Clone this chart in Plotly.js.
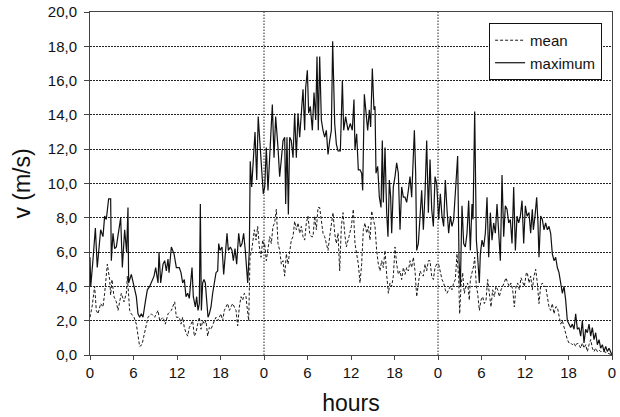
<!DOCTYPE html>
<html>
<head>
<meta charset="utf-8">
<script src="https://cdn.plot.ly/plotly-3.0.1.min.js"></script>
<style>html,body{margin:0;padding:0;background:#fff;}#chart{width:620px;height:417px;}</style>
</head>
<body>
<div id="chart"></div>
<script>
// ---- data (hours from start of 3-day record, wind speed m/s) ----
const maxHours = [0.0,0.1,0.4,0.74,1.0,1.47,1.79,2.02,2.25,2.57,2.85,2.94,3.17,3.4,3.63,3.86,4.23,4.46,4.78,5.05,5.24,5.33,5.7,6.07,6.39,6.62,6.85,7.08,7.31,7.63,7.91,8.23,8.46,8.83,9.06,9.38,9.52,9.75,10.07,10.3,10.53,10.76,10.9,11.22,11.59,11.91,12.32,12.55,12.78,13.01,13.24,13.47,13.7,14.07,14.25,14.53,14.71,14.9,15.08,15.22,15.36,15.54,15.72,15.91,16.09,16.28,16.46,16.69,16.92,17.15,17.38,17.61,17.75,17.93,18.21,18.44,18.67,18.9,19.08,19.36,19.59,19.77,20.0,20.23,20.51,20.74,20.97,21.19,21.42,21.75,21.98,22.1,22.3,22.5,22.76,23.0,23.2,23.45,23.7,23.9,24.1,24.32,24.55,24.87,25.15,25.38,25.61,25.93,26.16,26.39,26.62,26.85,26.99,27.17,27.36,27.54,27.77,28.0,28.23,28.46,28.69,28.92,29.15,29.38,29.61,29.75,29.98,30.16,30.39,30.67,30.9,31.13,31.31,31.49,31.68,31.91,32.14,32.37,32.6,32.83,33.06,33.29,33.47,33.75,33.98,34.21,34.53,34.81,34.99,35.26,35.59,35.91,36.18,36.41,36.55,36.78,37.01,37.24,37.47,37.61,37.84,38.07,38.3,38.53,38.71,38.94,39.17,39.31,39.45,39.68,39.91,40.14,40.32,40.46,40.69,40.92,41.1,41.29,41.47,41.61,41.84,42.07,42.3,42.53,42.76,42.99,43.22,43.45,43.68,43.91,44.14,44.37,44.6,44.74,44.92,45.06,45.29,45.52,45.75,45.98,46.21,46.44,46.67,46.9,47.13,47.36,47.59,47.82,48.09,48.32,48.55,48.78,49.01,49.24,49.47,49.7,49.93,50.16,50.39,50.71,50.9,51.08,51.31,51.54,51.77,52.0,52.23,52.46,52.69,52.83,53.06,53.29,53.47,53.7,53.84,54.07,54.3,54.53,54.76,54.99,55.22,55.45,55.68,55.91,56.14,56.37,56.6,56.83,57.06,57.29,57.52,57.75,57.98,58.21,58.44,58.67,58.9,59.13,59.36,59.59,59.82,60.05,60.28,60.55,60.78,61.01,61.15,61.38,61.61,61.79,61.93,62.16,62.39,62.62,62.85,63.08,63.31,63.54,63.77,64.0,64.23,64.46,64.69,64.92,65.15,65.38,65.61,65.84,66.07,66.3,66.53,66.76,66.99,67.22,67.45,67.68,67.91,68.14,68.37,68.6,68.83,69.06,69.29,69.52,69.75,69.98,70.21,70.44,70.67,70.9,71.13,71.36,71.59,71.82,72.0];
const maxSpeed = [5.7,4.0,5.5,7.4,5.1,7.3,6.9,8.1,7.9,9.1,9.1,5.5,7.1,6.2,6.3,6.9,8.0,5.1,7.3,6.0,8.6,4.2,4.7,4.0,3.4,2.4,2.2,2.4,2.2,3.1,3.8,4.0,4.2,4.6,5.1,4.2,6.0,4.2,5.3,5.5,4.9,5.6,4.8,6.3,5.9,5.1,5.1,4.8,4.2,4.4,3.4,3.6,3.3,5.1,3.4,2.8,3.4,2.6,3.0,8.8,2.6,4.2,4.4,4.2,3.2,2.2,2.4,2.8,3.6,4.2,4.8,4.9,6.5,6.1,6.3,4.7,6.1,7.1,6.1,6.3,6.1,5.5,6.2,5.3,7.1,6.3,6.5,7.1,6.1,4.2,6.1,11.3,9.8,11.0,13.0,10.2,13.9,12.3,10.8,9.4,9.8,12.1,9.6,12.1,14.6,11.5,13.9,12.1,10.4,11.4,12.5,12.7,8.8,12.7,8.2,12.7,12.5,11.5,14.1,11.5,14.1,12.7,14.1,15.5,13.1,15.6,16.6,14.1,14.5,13.1,15.3,13.7,17.4,13.1,17.4,13.7,13.1,12.7,13.1,11.7,12.5,13.1,18.3,13.5,12.3,11.9,11.9,16.0,13.1,13.9,13.1,13.5,13.1,14.9,12.0,12.9,10.8,10.8,10.6,9.6,15.2,14.1,13.1,14.3,13.3,16.7,14.3,14.5,10.6,11.0,9.2,8.6,12.5,8.9,12.1,8.3,6.9,10.2,9.2,7.1,9.8,10.4,11.2,10.6,7.3,9.8,9.2,9.2,8.9,9.6,10.4,9.2,11.7,13.1,10.6,6.1,6.5,8.1,9.6,7.3,9.4,12.5,8.3,11.4,8.5,7.5,10.4,10.0,7.9,9.4,8.1,7.5,10.2,8.5,7.1,8.1,7.5,7.9,9.4,11.6,5.5,4.0,8.7,6.5,6.3,7.1,9.0,6.1,8.8,7.9,14.2,6.7,5.7,4.2,5.9,6.7,6.3,7.1,9.2,5.7,8.3,6.7,7.7,7.1,8.8,6.7,5.5,10.5,6.9,8.7,8.5,7.7,7.9,6.5,9.8,6.1,8.1,7.7,8.1,9.0,6.5,8.7,8.1,8.3,7.1,8.5,7.3,8.1,9.2,7.7,5.7,8.1,7.9,7.3,7.7,7.3,7.5,7.1,5.9,5.5,5.7,5.1,4.8,4.2,3.6,4.0,3.2,2.0,1.8,1.6,1.8,1.5,2.4,1.5,1.6,1.1,2.0,0.7,1.5,1.3,1.8,1.1,1.6,0.9,1.3,0.6,0.9,0.4,0.6,0.2,0.5,0.2,0.4,0.1,0.0];

const meanHours = [0.0,0.09,0.28,0.64,0.87,1.1,1.47,1.79,2.02,2.39,2.71,2.85,3.03,3.31,3.63,3.86,4.09,4.32,4.69,5.01,5.15,5.47,5.7,6.07,6.39,6.62,6.85,7.17,7.45,7.77,8.0,8.46,8.92,9.38,9.61,10.07,10.39,10.76,11.22,11.68,11.91,12.32,12.55,12.78,13.01,13.24,13.47,13.7,13.93,14.16,14.39,14.62,14.85,15.08,15.31,15.54,15.77,16.0,16.23,16.46,16.69,16.92,17.15,17.38,17.61,17.84,18.07,18.3,18.53,18.76,18.99,19.22,19.45,19.68,19.91,20.14,20.37,20.6,20.83,21.06,21.29,21.52,21.66,21.89,22.07,22.3,22.67,22.9,23.13,23.36,23.59,23.82,24.0,24.09,24.32,24.55,24.78,25.01,25.24,25.47,25.7,25.93,26.16,26.39,26.62,26.85,27.08,27.31,27.54,27.77,28.0,28.23,28.46,28.69,28.92,29.15,29.38,29.61,29.84,30.07,30.3,30.53,30.76,30.99,31.22,31.45,31.68,31.91,32.14,32.37,32.6,32.83,33.06,33.29,33.52,33.75,33.98,34.21,34.44,34.67,34.9,35.13,35.36,35.72,36.05,36.32,36.55,36.78,37.01,37.24,37.47,37.7,37.93,38.16,38.39,38.62,38.85,39.08,39.31,39.54,39.77,40.0,40.23,40.46,40.69,40.92,41.15,41.38,41.61,41.84,42.07,42.3,42.53,42.76,42.99,43.22,43.45,43.68,43.91,44.14,44.37,44.6,44.83,45.06,45.29,45.52,45.75,45.98,46.21,46.44,46.67,46.9,47.13,47.36,47.59,47.82,48.09,48.32,48.55,48.78,49.01,49.24,49.47,49.7,49.93,50.16,50.39,50.62,50.85,50.99,51.17,51.4,51.63,51.86,52.09,52.32,52.46,52.69,52.92,53.06,53.29,53.47,53.7,53.93,54.16,54.39,54.62,54.85,55.08,55.31,55.54,55.77,56.0,56.23,56.46,56.69,56.92,57.15,57.38,57.61,57.84,58.07,58.3,58.53,58.76,58.99,59.22,59.45,59.68,59.91,60.19,60.32,60.55,60.78,61.01,61.24,61.47,61.7,61.93,62.16,62.39,62.62,62.85,63.08,63.31,63.54,63.77,64.0,64.23,64.46,64.69,64.92,65.15,65.38,65.61,65.84,66.07,66.3,66.53,66.76,66.99,67.22,67.45,67.68,67.91,68.14,68.37,68.6,68.83,69.06,69.29,69.52,69.75,69.98,70.21,70.44,70.9,71.36,72.0];
const meanSpeed = [2.2,2.4,2.8,4.0,2.6,2.4,3.0,2.8,3.6,5.3,4.4,3.5,4.4,3.4,3.1,2.6,3.2,3.6,3.1,3.6,4.6,2.6,2.4,2.2,1.8,1.1,0.5,0.6,1.1,1.7,2.2,2.4,2.2,2.6,2.0,2.2,1.8,2.4,2.6,3.1,2.2,2.2,1.8,2.2,1.6,1.3,1.1,1.6,1.8,2.0,1.1,1.3,1.8,2.2,1.5,2.0,1.8,2.0,1.1,1.6,1.5,1.8,2.0,2.2,2.0,2.2,2.4,2.0,2.6,2.8,3.0,2.6,2.8,3.0,2.8,2.6,1.7,2.8,3.4,3.2,3.6,3.4,2.8,2.0,5.7,6.1,7.3,6.7,7.5,6.3,5.7,6.7,6.3,6.5,5.5,6.3,6.9,6.5,7.5,7.7,8.5,6.5,6.1,5.3,5.5,4.6,5.9,5.3,5.9,6.7,6.9,7.8,7.3,7.7,7.1,7.5,6.9,6.7,7.7,8.1,7.1,6.9,6.9,8.1,7.3,8.6,8.6,7.7,7.1,6.9,6.5,6.1,6.9,7.5,8.3,7.1,6.5,7.1,4.9,7.5,8.3,7.1,6.3,6.9,7.5,8.5,6.5,5.9,5.3,4.2,5.3,7.3,7.7,7.1,7.5,6.7,8.4,7.9,7.5,6.1,5.3,4.9,5.5,5.1,6.1,4.7,3.6,4.2,4.0,4.6,6.3,5.3,4.7,4.9,4.4,5.1,4.7,5.1,4.9,5.5,5.1,5.7,4.9,3.4,4.2,4.9,4.7,4.6,5.3,4.9,5.5,5.5,4.6,4.4,5.1,5.3,5.3,4.8,4.4,4.2,3.8,3.6,3.8,4.0,3.8,4.2,4.4,5.9,4.5,2.4,4.0,4.8,3.6,4.0,4.2,3.2,4.4,4.8,5.2,5.7,4.0,3.6,2.6,3.2,3.4,3.0,3.2,4.4,3.6,2.8,3.8,3.4,4.0,3.8,3.4,3.8,4.0,4.2,4.5,4.2,4.0,4.2,3.8,2.8,4.0,4.2,3.8,4.5,4.2,4.0,4.8,4.8,4.2,4.6,3.8,4.6,5.0,4.2,3.0,4.0,4.2,4.0,4.0,3.4,2.8,2.6,3.0,2.4,2.8,2.8,2.2,1.8,2.0,1.6,1.3,0.9,0.7,0.7,0.6,0.7,0.5,0.7,0.6,0.4,0.7,0.4,0.6,0.2,0.6,0.9,0.4,0.2,0.4,0.2,0.3,0.2,0.2,0.1,0.0];

const tickHours = [0,6,12,18,24,30,36,42,48,54,60,66,72];
const tickLabels = ['0','6','12','18','0','6','12','18','0','6','12','18','0'];
const dayBreaks = [24,48];
const seriesNames = ['mean','maximum'];

const FONT = 'Liberation Sans, Arial, sans-serif';

const traces = [
  {x: meanHours, y: meanSpeed, name: seriesNames[0], type: 'scatter', mode: 'lines',
   line: {color: '#1a1a1a', width: 1, dash: '3px,2px'}, legendgroup: 'a'},
  {x: maxHours, y: maxSpeed, name: seriesNames[1], type: 'scatter', mode: 'lines',
   line: {color: '#111', width: 1.2}, legendgroup: 'b'}
];

const layout = {
  width: 620, height: 417,
  margin: {l: 90, r: 8, t: 12, b: 62},
  paper_bgcolor: '#fff', plot_bgcolor: '#fff',
  separators: ',.',
  font: {family: FONT, size: 15, color: '#111'},
  showlegend: true,
  legend: {x: 0.981, y: 0.968, xanchor: 'right', yanchor: 'top',
           bgcolor: '#fff', bordercolor: '#111', borderwidth: 1,
           font: {family: FONT, size: 15, color: '#111'},
           itemwidth: 30, traceorder: 'grouped', tracegroupgap: 0},
  xaxis: {range: [0, 72], tickvals: tickHours, ticktext: tickLabels,
          ticks: 'outside', ticklen: 4, tickcolor: '#444',
          showline: true, linecolor: '#444', linewidth: 1, mirror: true,
          showgrid: false, zeroline: false,
          tickfont: {family: FONT, size: 15, color: '#111'},
          title: {text: 'hours', font: {family: FONT, size: 23, color: '#111'}, standoff: 14}},
  yaxis: {range: [0, 20], dtick: 2, tick0: 0, tickformat: '.1f',
          ticks: 'outside', ticklen: 5, tickcolor: '#444', ticklabelstandoff: 4,
          showline: true, linecolor: '#444', linewidth: 1, mirror: true,
          showgrid: true, gridcolor: '#222', gridwidth: 1, griddash: '1.5px,1.5px',
          zeroline: false,
          tickfont: {family: FONT, size: 15, color: '#111'},
          title: {text: 'v (m/s)', font: {family: FONT, size: 23, color: '#111'}, standoff: 10}},
  shapes: dayBreaks.map(h => ({type: 'line', xref: 'x', yref: 'paper', x0: h, x1: h, y0: 0, y1: 1,
                               layer: 'below', line: {color: '#222', width: 1, dash: '1.5px,1.5px'}}))
};

Plotly.newPlot('chart', traces, layout, {staticPlot: true, displayModeBar: false});
</script>
</body>
</html>
